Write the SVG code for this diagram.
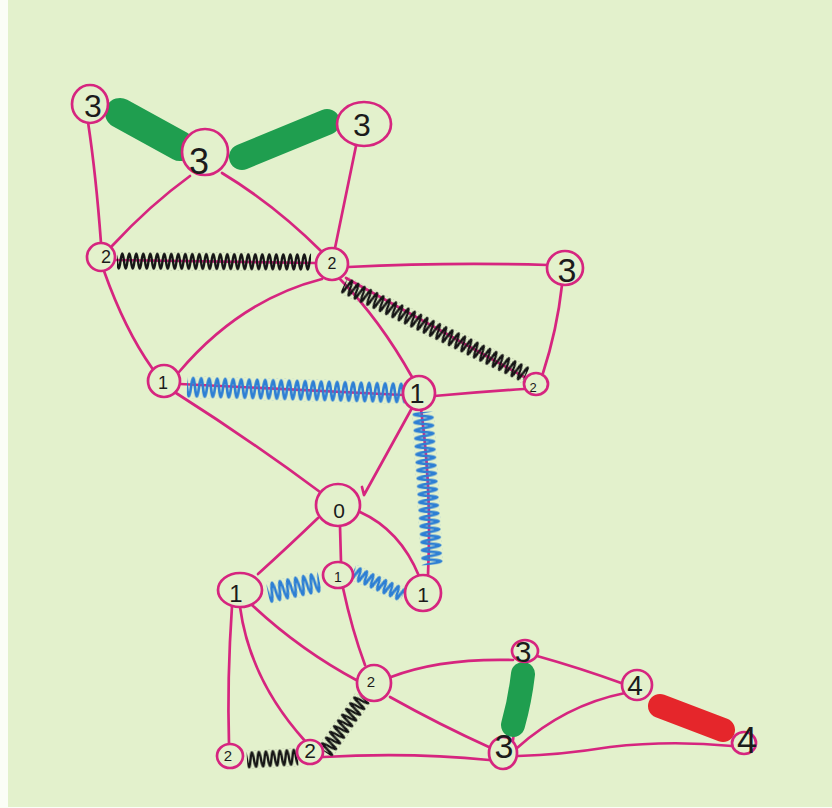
<svg xmlns="http://www.w3.org/2000/svg" width="832" height="808" viewBox="0 0 832 808">
  <style>
    .edge { fill: none; stroke: #d6257f; stroke-width: 2.7; stroke-linecap: round; stroke-linejoin: round; }
    .node ellipse { fill: #e3f1cc; stroke: #d6257f; stroke-width: 2.7; }
    .node text { font-family: "Liberation Sans", Arial, sans-serif; fill: #1b1b1b; text-anchor: middle; }
    .blob { fill: none; stroke-linecap: round; stroke-linejoin: round; }
    .green { stroke: #1f9e4f; }
    .red { stroke: #e5262b; }
  </style>
  <defs>
    <!-- black coil, one period per tile -->
    <pattern id="coilBlack" patternUnits="userSpaceOnUse" x="0" y="-9" width="7" height="18">
      <path d="M-3.5,9 q1.75,-15 3.5,0 t3.5,0 t3.5,0 t3.5,0" fill="none" stroke="#151515" stroke-width="2.4"/>
    </pattern>
    <!-- blue coil, wide -->
    <pattern id="coilBlue" patternUnits="userSpaceOnUse" x="0" y="-11" width="8" height="22">
      <path d="M-4,11 q2,-19 4,0 t4,0 t4,0 t4,0" fill="none" stroke="#2d7fd4" stroke-width="2.7"/>
    </pattern>
    <!-- blue coil, narrow -->
    <pattern id="coilBlueSm" patternUnits="userSpaceOnUse" x="0" y="-8" width="7" height="16">
      <path d="M-3.5,8 q1.75,-13 3.5,0 t3.5,0 t3.5,0 t3.5,0" fill="none" stroke="#2d7fd4" stroke-width="2.7"/>
    </pattern>
  </defs>

  <!-- paper -->
  <rect x="0" y="0" width="832" height="808" fill="#fbfdf6"/>
  <rect x="8" y="0" width="824" height="807" fill="#e3f1cc"/>

  <g id="connectors">
    <!-- plain edges -->
    <path class="edge" d="M88,122 Q96,175 101,243"/>
    <path class="edge" d="M190,176 Q150,205 112,246"/>
    <path class="edge" d="M222,173 Q275,205 322,252"/>
    <path class="edge" d="M356,146 Q345,200 335,248"/>
    <path class="edge" d="M115,260 L316,263"/>
    <path class="edge" d="M104,271 Q125,330 152,368"/>
    <path class="edge" d="M322,279 Q240,300 179,372"/>
    <path class="edge" d="M348,267 Q450,262 548,265"/>
    <path class="edge" d="M340,279 Q380,320 412,377"/>
    <path class="edge" d="M346,278 L526,378"/>
    <path class="edge" d="M562,285 Q557,330 543,373"/>
    <path class="edge" d="M180,384 L403,395"/>
    <path class="edge" d="M434,396 Q480,392 524,389"/>
    <path class="edge" d="M176,393 Q250,440 320,492"/>
    <path class="edge" d="M412,408 L364,495 M364,495 L362,487"/>
    <path class="edge" d="M421,409 Q432,490 428,575"/>
    <path class="edge" d="M318,518 Q290,545 258,574"/>
    <path class="edge" d="M340,526 L341,562"/>
    <path class="edge" d="M360,512 Q400,530 419,576"/>
    <path class="edge" d="M252,605 Q300,650 358,681"/>
    <path class="edge" d="M232,606 Q227,680 229,744"/>
    <path class="edge" d="M240,607 Q250,680 305,741"/>
    <path class="edge" d="M343,588 Q352,630 365,665"/>
    <path class="edge" d="M323,757 Q410,752 489,760"/>
    <path class="edge" d="M391,677 Q440,658 513,660"/>
    <path class="edge" d="M390,697 Q440,725 491,748"/>
    <path class="edge" d="M521,664 L513,740"/>
    <path class="edge" d="M537,656 Q580,668 624,684"/>
    <path class="edge" d="M625,693 Q565,705 517,748"/>
    <path class="edge" d="M518,756 Q560,755 610,747 Q670,740 732,746"/>

    <!-- coiled edges -->
    <rect x="0" y="-9" width="194" height="18" fill="url(#coilBlack)" transform="translate(117,261) rotate(0.3)"/>
    <rect x="0" y="-9" width="203" height="18" fill="url(#coilBlack)" transform="translate(344,285) rotate(26.3)"/>
    <rect x="0" y="-11" width="218" height="22" fill="url(#coilBlue)" transform="translate(187,387) rotate(1.6)"/>
    <rect x="0" y="-11" width="153" height="22" fill="url(#coilBlue)" transform="translate(423,412) rotate(86.6)"/>
    <rect x="0" y="-11" width="53" height="22" fill="url(#coilBlue)" transform="translate(268,593) rotate(-12)"/>
    <rect x="0" y="-8" width="55" height="16" fill="url(#coilBlueSm)" transform="translate(353,572) rotate(24.7)"/>
    <rect x="0" y="-9" width="66" height="18" fill="url(#coilBlack)" transform="translate(325,752) rotate(-54.9)"/>
    <rect x="0" y="-9" width="51" height="18" fill="url(#coilBlack)" transform="translate(247,760) rotate(-3.4)"/>

    <!-- heavy edges -->
    <path class="blob green" stroke-width="30" d="M120,113 L180,146"/>
    <path class="blob green" stroke-width="26" d="M242,157 L327,122"/>
    <path class="blob green" stroke-width="24" d="M523,674 Q520,700 513,725"/>
    <path class="blob red" stroke-width="24" d="M660,706 L723,730"/>
  </g>

  <g id="n-a" class="node"><ellipse cx="90" cy="104" rx="18" ry="19"/><text x="93" y="117" font-size="32">3</text></g>
  <g id="n-b" class="node"><ellipse cx="205" cy="152" rx="23" ry="23"/><text x="199" y="174" font-size="36">3</text></g>
  <g id="n-c" class="node"><ellipse cx="364" cy="124" rx="27" ry="22"/><text x="362" y="136" font-size="32">3</text></g>
  <g id="n-d" class="node"><ellipse cx="101" cy="257" rx="14" ry="14"/><text x="106" y="263" font-size="18">2</text></g>
  <g id="n-e" class="node"><ellipse cx="332" cy="264" rx="16" ry="16"/><text x="332" y="269" font-size="16">2</text></g>
  <g id="n-f" class="node"><ellipse cx="565" cy="268" rx="18" ry="17"/><text x="567" y="282" font-size="34">3</text></g>
  <g id="n-g" class="node"><ellipse cx="164" cy="381" rx="16" ry="16"/><text x="163" y="389" font-size="18">1</text></g>
  <g id="n-h" class="node"><ellipse cx="419" cy="393" rx="16" ry="17"/><text x="417" y="403" font-size="27">1</text></g>
  <g id="n-i" class="node"><ellipse cx="536" cy="384" rx="12" ry="11"/><text x="533" y="392" font-size="13">2</text></g>
  <g id="n-j" class="node"><ellipse cx="338" cy="505" rx="22" ry="21"/><text x="339" y="518" font-size="21">0</text></g>
  <g id="n-k" class="node"><ellipse cx="240" cy="590" rx="22" ry="17"/><text x="236" y="602" font-size="24">1</text></g>
  <g id="n-l" class="node"><ellipse cx="338" cy="575" rx="15" ry="13"/><text x="338" y="582" font-size="14">1</text></g>
  <g id="n-m" class="node"><ellipse cx="423" cy="593" rx="18" ry="18"/><text x="423" y="602" font-size="21">1</text></g>
  <g id="n-n" class="node"><ellipse cx="374" cy="683" rx="17" ry="18"/><text x="371" y="687" font-size="15">2</text></g>
  <g id="n-o" class="node"><ellipse cx="525" cy="651" rx="13" ry="11"/><text x="523" y="662" font-size="30">3</text></g>
  <g id="n-p" class="node"><ellipse cx="637" cy="685" rx="15" ry="15"/><text x="635" y="695" font-size="28">4</text></g>
  <g id="n-q" class="node"><ellipse cx="230" cy="756" rx="13" ry="12"/><text x="228" y="761" font-size="15">2</text></g>
  <g id="n-r" class="node"><ellipse cx="310" cy="752" rx="13" ry="12"/><text x="310" y="758" font-size="21">2</text></g>
  <g id="n-s" class="node"><ellipse cx="503" cy="753" rx="14" ry="16"/><text x="504" y="758" font-size="34">3</text></g>
  <g id="n-t" class="node"><ellipse cx="744" cy="743" rx="12" ry="11"/><text x="747" y="753" font-size="36">4</text></g>
</svg>
